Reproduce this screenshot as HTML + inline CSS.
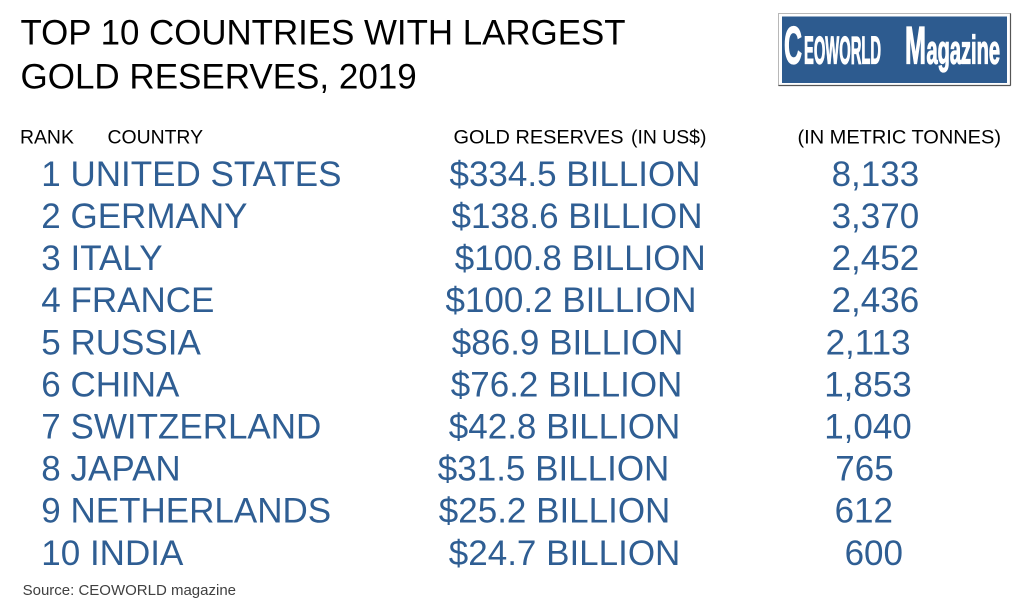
<!DOCTYPE html>
<html>
<head>
<meta charset="utf-8">
<style>
  html, body { margin: 0; padding: 0; background: #ffffff; }
  body { width: 1024px; height: 612px; overflow: hidden; }
  svg { display: block; }
  .t { font-family: "Liberation Sans", Arial, sans-serif; }
</style>
</head>
<body>
<svg width="1024" height="612" viewBox="0 0 1024 612" xmlns="http://www.w3.org/2000/svg">
  <rect x="0" y="0" width="1024" height="612" fill="#ffffff"/>

  <!-- Title -->
  <g class="t" fill="#000000" font-size="35">
    <text x="20.5" y="44.5" textLength="605" lengthAdjust="spacingAndGlyphs">TOP 10 COUNTRIES WITH LARGEST</text>
    <text x="20.5" y="88.5">GOLD RESERVES, 2019</text>
  </g>

  <!-- Logo -->
  <g>
    <rect x="778.5" y="13.5" width="232" height="72" fill="#ffffff" stroke="#b8b8b8" stroke-width="1"/>
    <line x1="1010.5" y1="13.5" x2="1010.5" y2="85.5" stroke="#555555" stroke-width="1.2"/>
    <line x1="778.5" y1="85.5" x2="1010.5" y2="85.5" stroke="#555555" stroke-width="1.2"/>
    <rect x="782" y="16.5" width="225" height="66.5" fill="#2d5b8f"/>
    <g class="t" fill="#ffffff" stroke="#ffffff" stroke-width="1.3" font-weight="bold">
      <text x="784" y="63.5" font-size="53" textLength="18" lengthAdjust="spacingAndGlyphs">C</text>
      <text x="804" y="63.5" font-size="39" textLength="77" lengthAdjust="spacingAndGlyphs">EOWORLD</text>
      <text x="905" y="63.5" font-size="53" textLength="21" lengthAdjust="spacingAndGlyphs">M</text>
      <text x="926.5" y="63.5" font-size="40" textLength="73.5" lengthAdjust="spacingAndGlyphs">agazine</text>
    </g>
  </g>

  <!-- Headers -->
  <g class="t" fill="#000000" font-size="19.4">
    <text x="20" y="143.5">RANK</text>
    <text x="107.5" y="143.5">COUNTRY</text>
    <text x="453.5" y="143.5" textLength="170" lengthAdjust="spacingAndGlyphs">GOLD RESERVES</text>
    <text x="631" y="143.5">(IN US$)</text>
    <text x="797.5" y="143.5" textLength="203.5" lengthAdjust="spacingAndGlyphs">(IN METRIC TONNES)</text>
  </g>

  <!-- Rows -->
  <g class="t" fill="#2f5e93" font-size="35">
    <text x="41.3" y="186">1 UNITED STATES</text>
    <text x="41.3" y="228">2 GERMANY</text>
    <text x="41.3" y="270">3 ITALY</text>
    <text x="41.3" y="312.2">4 FRANCE</text>
    <text x="41.3" y="354.3">5 RUSSIA</text>
    <text x="41.3" y="396.4">6 CHINA</text>
    <text x="41.3" y="438.5">7 SWITZERLAND</text>
    <text x="41.3" y="480.6">8 JAPAN</text>
    <text x="41.3" y="522.7">9 NETHERLANDS</text>
    <text x="41.3" y="564.8">10 INDIA</text>

    <text x="449.5" y="186">$334.5 BILLION</text>
    <text x="451.5" y="228">$138.6 BILLION</text>
    <text x="454.8" y="270">$100.8 BILLION</text>
    <text x="445.5" y="312.2">$100.2 BILLION</text>
    <text x="451.8" y="354.3">$86.9 BILLION</text>
    <text x="450.8" y="396.4">$76.2 BILLION</text>
    <text x="448.8" y="438.5">$42.8 BILLION</text>
    <text x="437.8" y="480.6">$31.5 BILLION</text>
    <text x="438.8" y="522.7">$25.2 BILLION</text>
    <text x="448.8" y="564.8">$24.7 BILLION</text>

    <text x="831.6" y="186">8,133</text>
    <text x="831.6" y="228">3,370</text>
    <text x="831.6" y="270">2,452</text>
    <text x="831.6" y="312.2">2,436</text>
    <text x="825.6" y="354.3">2,113</text>
    <text x="824.2" y="396.4">1,853</text>
    <text x="824.2" y="438.5">1,040</text>
    <text x="835.3" y="480.6">765</text>
    <text x="834.6" y="522.7">612</text>
    <text x="844.6" y="564.8">600</text>
  </g>

  <!-- Source -->
  <text class="t" x="22.6" y="595" font-size="15" fill="#404040">Source: CEOWORLD magazine</text>
</svg>
</body>
</html>
